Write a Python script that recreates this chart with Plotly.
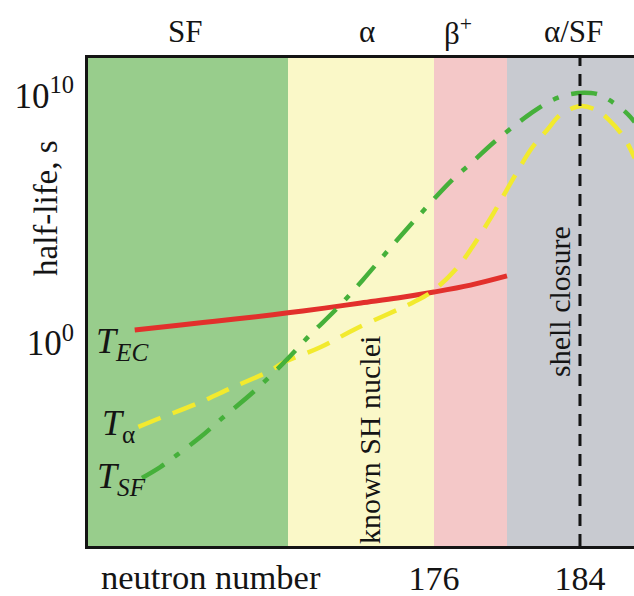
import plotly.graph_objects as go

# Decay-mode regions along the neutron number axis
region_edges = [157.0, 168.0, 176.0, 180.0, 187.5]
region_colors = ["#98cd8c", "#faf8c8", "#f4c8c8", "#c8cad0"]
region_labels = ["SF", "α", "β<sup>+</sup>", "α/SF"]
region_label_x = [162.35, 172.35, 177.3, 183.65]

# Partial half-lives, log10(T / s)
n_ec = [159.6, 162.0, 164.0, 166.0, 168.0, 170.0, 172.0, 174.0, 176.0, 178.0, 180.0]
lg_ec = [0.53, 0.72, 0.88, 1.04, 1.22, 1.41, 1.62, 1.82, 2.06, 2.34, 2.71]

n_alpha = [159.8, 161.0, 163.1, 165.0, 167.0, 167.8, 169.8, 171.8, 174.9, 176.0,
           177.3, 178.1, 179.2, 180.3, 181.4, 182.2, 182.9, 183.6, 184.1, 184.9,
           185.6, 186.4, 187.0]
lg_alpha = [-3.39, -3.03, -2.42, -1.78, -1.13, -0.77, -0.16, 0.61, 1.66, 2.14,
            3.07, 3.88, 5.17, 6.59, 7.92, 8.61, 9.21, 9.49, 9.58, 9.41,
            9.01, 8.32, 7.47]

n_sf = [160.0, 161.0, 161.9, 163.2, 164.4, 166.1, 167.8, 169.2, 170.7, 172.1,
        173.6, 175.2, 177.0, 178.1, 179.3, 180.6, 181.4, 182.5, 183.5, 184.6,
        185.1, 185.6, 186.5, 187.0]
lg_sf = [-5.45, -5.01, -4.53, -3.80, -3.03, -1.98, -0.77, 0.32, 1.41, 2.55,
         3.84, 5.17, 6.59, 7.31, 8.12, 8.89, 9.33, 9.82, 10.06, 10.10,
         10.02, 9.82, 9.33, 8.93]

x_ticks = [176, 184]
y_ticks = [1, 1e10]
y_ticktext = ["10<sup>0</sup>", "10<sup>10</sup>"]
shell_n = 184

FONT = "Liberation Serif"
INK = "#141414"

fig = go.Figure()

fig.add_trace(go.Scatter(x=n_ec, y=[10 ** v for v in lg_ec], mode="lines",
                         line=dict(color="#e2302c", width=5, shape="spline"),
                         hoverinfo="skip"))
fig.add_trace(go.Scatter(x=n_alpha, y=[10 ** v for v in lg_alpha], mode="lines",
                         line=dict(color="#f2ea2e", width=4.5, shape="spline",
                                   dash="24px,13px"),
                         hoverinfo="skip"))
fig.add_trace(go.Scatter(x=n_sf, y=[10 ** v for v in lg_sf], mode="lines",
                         line=dict(color="#45b03a", width=4.5, shape="spline",
                                   dash="26px,13px,6px,13px"),
                         hoverinfo="skip"))

shapes = []
for i, col in enumerate(region_colors):
    shapes.append(dict(type="rect", xref="x", yref="paper",
                       x0=region_edges[i], x1=region_edges[i + 1], y0=0, y1=1,
                       fillcolor=col, line=dict(width=0), layer="below"))
shapes.append(dict(type="line", xref="x", yref="paper", x0=shell_n, x1=shell_n,
                   y0=0, y1=1, line=dict(color=INK, width=3, dash="12px,8px")))

ann = []
for lab, xv in zip(region_labels, region_label_x):
    ann.append(dict(x=xv, y=1.055, xref="x", yref="paper", text=lab,
                    showarrow=False, yanchor="middle",
                    font=dict(family=FONT, size=31, color=INK)))

# text placed in paper coordinates derived from the plot box
L, T, W, H = 88, 58, 546, 488
def px(xp, yp):
    return (xp - L) / W, 1 - (yp - T) / H

notes = [
    ("neutron number", 211, 577, 0, 34.5),
    ("half-life, s", 46, 208, -90, 33),
    ("known SH nuclei", 369, 440, -90, 30),
    ("shell closure", 559, 302, -90, 30),
]
for text, xp, yp, ang, sz in notes:
    xx, yy = px(xp, yp)
    ann.append(dict(x=xx, y=yy, xref="paper", yref="paper", text=text,
                    showarrow=False, textangle=ang, xanchor="center", yanchor="middle",
                    font=dict(family=FONT, size=sz, color=INK)))

t_labels = [
    ("<i>T</i><sub><i>EC</i></sub>", 122, 343),
    ("<i>T</i><sub>α</sub>", 118, 425),
    ("<i>T</i><sub><i>SF</i></sub>", 121, 478),
]
for text, xp, yp in t_labels:
    xx, yy = px(xp, yp)
    ann.append(dict(x=xx, y=yy, xref="paper", yref="paper", text=text,
                    showarrow=False, xanchor="center", yanchor="middle",
                    font=dict(family=FONT, size=36, color=INK)))

fig.update_layout(
    width=634, height=596,
    margin=dict(l=88, r=0, t=58, b=50),
    paper_bgcolor="white", plot_bgcolor="white",
    showlegend=False,
    shapes=shapes,
    annotations=ann,
)

fig.update_xaxes(range=[157.04, 186.96], showgrid=False, zeroline=False,
                 automargin=False,
                 tickvals=x_ticks, ticks="", ticklabelstandoff=0,
                 tickfont=dict(family=FONT, size=34, color=INK),
                 showline=True, linecolor=INK, linewidth=3, mirror=True)
fig.update_yaxes(type="log", range=[-8.2, 11.515], showgrid=False, zeroline=False,
                 automargin=False,
                 tickvals=y_ticks, ticktext=y_ticktext, ticks="",
                 ticklabelstandoff=4,
                 tickfont=dict(family=FONT, size=35, color=INK),
                 showline=True, linecolor=INK, linewidth=3, mirror=False)

fig.write_html("out.html")
